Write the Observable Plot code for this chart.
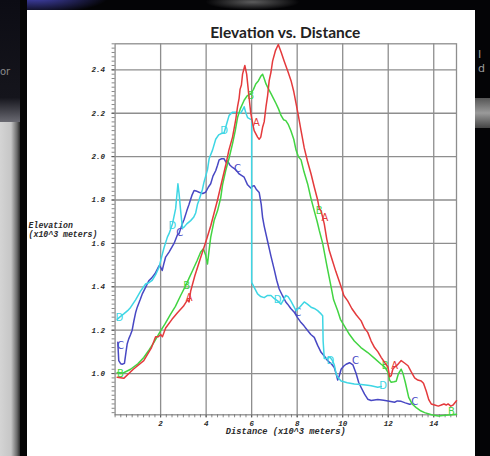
<!DOCTYPE html>
<html>
<head>
<meta charset="utf-8">
<script src="https://cdn.jsdelivr.net/npm/d3@7"></script>
<script src="https://cdn.jsdelivr.net/npm/@observablehq/plot@0.6"></script>
<style>
  html, body { margin: 0; padding: 0; }
  body { width: 490px; height: 456px; background: #040406; position: relative; overflow: hidden; }
  .deco { position: absolute; }
  #glow { left: -40px; top: -22px; width: 150px; height: 36px; background: radial-gradient(ellipse at center, rgba(80,80,210,0.9), rgba(40,40,140,0) 70%); }
  #glow2 { left: 205px; top: -6px; width: 95px; height: 16px; background: radial-gradient(ellipse at center, rgba(150,150,150,0.6), rgba(60,60,60,0) 70%); }
  #sideTop { left: 0; top: 0; width: 20px; height: 122px; background: linear-gradient(to bottom, #0c0c14, #15151c 80%, #6a6a72); }
  #sideBot { left: 0; top: 122px; width: 20px; height: 334px; background: linear-gradient(to right, #d4d4d4, #c6c6c6 55%, #6a6a6a 85%, #2a2a2a); }
  #edge { left: 20px; top: 0; width: 7px; height: 456px; background: #050505; }
  #rightBand { left: 475px; top: 98px; width: 15px; height: 30px; background: linear-gradient(to bottom, #555, #9a9a9a, #444); }
  #txtL { left: 0; top: 66px; color: #8a8a8a; font: 10px "DejaVu Sans", sans-serif; }
  #txtR { left: 478px; top: 48px; color: #9a9a9a; font: 11px "DejaVu Sans", sans-serif; line-height: 14px; }
  #panel { position: absolute; left: 27px; top: 10px; width: 448px; height: 446px; background: #fff; overflow: hidden; }
  #title { position: absolute; top: 13px; left: 87.6px; width: 341.4px; text-align: center;
           font: bold 15.5px Lato, "DejaVu Sans", sans-serif; color: #222; }
  #chart { position: absolute; left: 0; top: 0; }
</style>
</head>
<body>
<div class="deco" id="glow"></div>
<div class="deco" id="glow2"></div>
<div class="deco" id="sideTop"></div>
<div class="deco" id="sideBot"></div>
<div class="deco" id="edge"></div>
<div class="deco" id="rightBand"></div>
<div class="deco" id="txtL">or</div>
<div class="deco" id="txtR">I<br>d</div>
<div id="panel">
  <div id="title"></div>
  <div id="chart"></div>
</div>
<script>
// Profile traces: [distance (x10^3 m), elevation (x10^3 m)]
const profileA = [
  [0.09,0.983],[0.38,0.978],[0.8,1.02],[1.26,1.06],[1.6,1.12],[1.78,1.17],[1.9,1.17],[2.0,1.18],[2.08,1.17],
  [2.22,1.21],[2.5,1.25],[2.74,1.28],[3.0,1.31],[3.18,1.34],[3.25,1.33],[3.32,1.38],[3.5,1.45],[3.76,1.535],
  [3.98,1.605],[4.2,1.68],[4.5,1.80],[4.7,1.89],[4.86,1.96],[5.0,2.03],[5.16,2.09],[5.3,2.17],[5.38,2.23],
  [5.45,2.27],[5.49,2.31],[5.55,2.33],[5.6,2.38],[5.70,2.42],[5.78,2.38],[5.85,2.31],[5.96,2.20],[6.05,2.15],
  [6.11,2.12],[6.26,2.09],[6.33,2.08],[6.4,2.09],[6.48,2.135],[6.55,2.16],[6.63,2.23],[6.7,2.28],[6.77,2.35],
  [6.85,2.39],[6.92,2.44],[7.05,2.49],[7.17,2.517],[7.3,2.48],[7.43,2.44],[7.6,2.39],[7.73,2.35],[7.85,2.30],
  [7.95,2.245],[8.05,2.19],[8.17,2.12],[8.31,2.04],[8.45,1.98],[8.61,1.92],[8.75,1.86],[8.9,1.80],[8.97,1.76],
  [9.05,1.75],[9.19,1.69],[9.3,1.62],[9.41,1.567],[9.55,1.52],[9.7,1.47],[9.93,1.40],[10.05,1.36],[10.22,1.335],
  [10.4,1.30],[10.6,1.27],[10.81,1.243],[10.95,1.21],[11.1,1.19],[11.25,1.15],[11.4,1.12],[11.55,1.10],
  [11.69,1.075],[11.85,1.05],[11.99,1.03],[12.06,0.985],[12.13,0.99],[12.2,1.02],[12.28,1.03],[12.4,1.04],
  [12.57,1.06],[12.7,1.05],[12.87,1.036],[13.0,1.01],[13.16,0.98],[13.3,0.97],[13.45,0.966],[13.55,0.955],
  [13.67,0.92],[13.78,0.88],[13.89,0.86],[14.04,0.855],[14.2,0.85],[14.33,0.855],[14.45,0.86],[14.55,0.855],
  [14.63,0.86],[14.75,0.85],[14.85,0.855],[15.0,0.875]
];
const profileB = [
  [0.09,1.005],[0.24,1.0],[0.4,1.005],[0.68,1.02],[1.0,1.045],[1.26,1.074],[1.5,1.11],[1.7,1.143],[2.0,1.197],
  [2.2,1.23],[2.44,1.274],[2.65,1.31],[2.88,1.36],[3.1,1.405],[3.25,1.44],[3.4,1.474],[3.6,1.52],[3.76,1.56],
  [3.88,1.575],[3.98,1.545],[4.06,1.505],[4.12,1.56],[4.2,1.628],[4.35,1.705],[4.5,1.75],[4.64,1.81],[4.72,1.87],
  [4.86,1.936],[5.0,1.99],[5.16,2.06],[5.28,2.12],[5.38,2.18],[5.5,2.22],[5.67,2.26],[5.8,2.28],[5.96,2.29],
  [6.08,2.31],[6.18,2.335],[6.3,2.35],[6.4,2.37],[6.48,2.38],[6.55,2.36],[6.63,2.335],[6.75,2.31],[6.85,2.29],
  [6.95,2.27],[7.07,2.245],[7.18,2.22],[7.29,2.19],[7.4,2.17],[7.5,2.166],[7.6,2.15],[7.72,2.12],[7.85,2.08],
  [7.95,2.03],[8.05,2.00],[8.17,1.985],[8.3,1.93],[8.46,1.874],[8.6,1.81],[8.75,1.75],[8.88,1.70],[8.97,1.66],
  [9.12,1.60],[9.3,1.50],[9.49,1.40],[9.6,1.34],[9.78,1.29],[9.9,1.25],[10.07,1.22],[10.3,1.18],[10.51,1.15],
  [10.8,1.12],[11.1,1.097],[11.4,1.07],[11.69,1.043],[11.85,1.03],[11.99,1.005],[12.06,0.97],[12.13,0.96],
  [12.25,0.962],[12.35,0.965],[12.45,1.0],[12.57,1.02],[12.65,1.0],[12.75,0.96],[12.9,0.89],[13.05,0.86],
  [13.23,0.843],[13.4,0.83],[13.6,0.82],[13.9,0.81],[14.2,0.805],[14.5,0.808],[14.8,0.81],[15.0,0.812]
];
const profileC = [
  [0.12,1.144],[0.14,1.10],[0.16,1.06],[0.25,1.045],[0.31,1.043],[0.41,1.047],[0.48,1.10],[0.53,1.136],
  [0.6,1.16],[0.68,1.18],[0.75,1.20],[0.82,1.24],[0.9,1.28],[0.97,1.305],[1.1,1.34],[1.19,1.366],[1.35,1.40],
  [1.48,1.428],[1.6,1.44],[1.75,1.46],[1.93,1.497],[2.0,1.49],[2.07,1.475],[2.15,1.51],[2.22,1.537],[2.37,1.56],
  [2.59,1.60],[2.74,1.64],[2.81,1.645],[2.95,1.69],[3.03,1.71],[3.15,1.75],[3.25,1.78],[3.37,1.82],[3.47,1.844],
  [3.6,1.84],[3.69,1.836],[3.85,1.83],[3.98,1.836],[4.1,1.86],[4.2,1.875],[4.3,1.91],[4.42,1.935],[4.5,1.96],
  [4.57,1.985],[4.68,1.99],[4.79,1.99],[4.87,1.975],[4.94,1.98],[5.05,1.96],[5.16,1.95],[5.3,1.94],[5.45,1.92],
  [5.67,1.905],[5.82,1.87],[5.96,1.855],[6.05,1.865],[6.11,1.866],[6.2,1.85],[6.33,1.835],[6.42,1.78],
  [6.48,1.72],[6.55,1.68],[6.7,1.61],[6.85,1.54],[6.99,1.48],[7.1,1.43],[7.21,1.39],[7.35,1.36],[7.5,1.33],
  [7.58,1.32],[7.72,1.30],[7.87,1.283],[8.0,1.26],[8.17,1.235],[8.3,1.22],[8.45,1.20],[8.6,1.18],[8.75,1.167],
  [8.9,1.13],[9.05,1.098],[9.2,1.08],[9.34,1.059],[9.5,1.045],[9.63,1.028],[9.72,0.995],[9.78,0.97],[9.85,0.99],
  [9.93,1.02],[10.05,1.035],[10.15,1.043],[10.3,1.05],[10.45,1.04],[10.59,1.0],[10.7,0.96],[10.81,0.936],
  [10.96,0.905],[11.1,0.882],[11.25,0.876],[11.54,0.88],[11.8,0.877],[11.99,0.874],[12.28,0.868],[12.4,0.874],
  [12.57,0.872],[12.75,0.865],[12.94,0.859],[13.0,0.86]
];
const profileD = [
  [0.09,1.25],[0.2,1.26],[0.38,1.275],[0.55,1.29],[0.68,1.305],[0.9,1.34],[1.12,1.38],[1.34,1.413],[1.5,1.42],
  [1.63,1.43],[1.8,1.46],[1.93,1.49],[2.05,1.54],[2.15,1.58],[2.3,1.63],[2.37,1.645],[2.52,1.69],[2.66,1.76],
  [2.76,1.875],[2.81,1.83],[2.88,1.75],[2.96,1.67],[3.03,1.675],[3.15,1.69],[3.32,1.705],[3.45,1.72],[3.54,1.74],
  [3.62,1.78],[3.69,1.80],[3.84,1.85],[3.9,1.88],[4.06,1.94],[4.13,1.99],[4.28,2.03],[4.42,2.08],[4.55,2.10],
  [4.64,2.105],[4.79,2.11],[4.9,2.15],[5.01,2.19],[5.16,2.205],[5.3,2.205],[5.52,2.20],[5.6,2.215],[5.67,2.23],
  [5.75,2.20],[5.82,2.18],[5.96,2.172],[6.0,2.17],[6.0,1.42],[6.1,1.40],[6.26,1.367],[6.4,1.355],[6.55,1.35],
  [6.7,1.36],[6.85,1.36],[7.0,1.345],[7.14,1.335],[7.29,1.32],[7.4,1.34],[7.5,1.36],[7.6,1.355],[7.72,1.335],
  [7.85,1.31],[7.95,1.29],[8.1,1.305],[8.31,1.33],[8.45,1.32],[8.61,1.306],[8.75,1.30],[8.9,1.29],[9.05,1.275],
  [9.12,1.267],[9.14,1.15],[9.19,1.07],[9.3,1.07],[9.45,1.075],[9.55,1.06],[9.63,1.04],[9.71,1.00],[9.78,0.983],
  [9.93,0.966],[10.2,0.958],[10.51,0.952],[10.81,0.95],[11.1,0.946],[11.25,0.944],[11.54,0.937],[11.7,0.94]
];

// Letter tags along each trace
const tagsA = [[3.25,1.35],[6.21,2.158],[9.22,1.72],[12.28,1.035]];
const tagsB = [[0.24,1.0],[3.15,1.405],[5.96,2.28],[8.97,1.75],[11.87,1.035],[14.78,0.826]];
const tagsC = [[0.24,1.13],[2.84,1.648],[5.38,1.943],[8.02,1.279],[10.56,1.059],[13.16,0.871]];
const tagsD = [[0.19,1.258],[2.51,1.68],[4.79,2.12],[7.14,1.339],[9.46,1.059],[11.77,0.943]];

const traceNames = ["A", "B", "C", "D"];
const traceColors = ["#e43a3c", "#42d442", "#4848c4", "#3ed6e4"];

const xTicks = [2, 4, 6, 8, 10, 12, 14];
const yTicks = [1.0, 1.2, 1.4, 1.6, 1.8, 2.0, 2.2, 2.4];
const xDomain = [0, 15];
const yDomain = [0.81, 2.52];

const titleText = "Elevation vs. Distance";
const xTitle = "Distance (x10^3 meters)";
const yTitle = ["Elevation", "(x10^3 meters)"];

document.getElementById("title").textContent = titleText;

const W = 448, H = 446;
const M = {left: 87.6, right: 19, top: 33.3, bottom: 41.7};
const frameW = W - M.left - M.right;
const frameH = H - M.top - M.bottom;

const xMinor = d3.range(0, 15.001, 0.25);
const yMinor = d3.range(0.82, 2.521, 0.02);

const gridColor = "#8e8e8e";
const mono = "'Liberation Mono', 'DejaVu Sans Mono', monospace";

const traces = [
  {data: profileC, tags: tagsC, i: 2},
  {data: profileD, tags: tagsD, i: 3},
  {data: profileB, tags: tagsB, i: 1},
  {data: profileA, tags: tagsA, i: 0}
];

const chart = Plot.plot({
  width: W,
  height: H,
  marginLeft: M.left,
  marginRight: M.right,
  marginTop: M.top,
  marginBottom: M.bottom,
  style: {
    background: "transparent",
    color: "#2a2a2a",
    fontFamily: mono,
    fontStyle: "italic",
    fontWeight: "bold",
    fontSize: "7.5px"
  },
  x: {domain: xDomain, ticks: xTicks, tickSize: 3, tickPadding: 3, tickFormat: d => String(d), label: null},
  y: {domain: yDomain, ticks: yTicks, tickSize: 3, tickPadding: 7, tickFormat: d3.format(".1f"), label: null},
  marks: [
    Plot.ruleX(xTicks, {stroke: gridColor, strokeWidth: 1.3}),
    Plot.ruleY(yTicks, {stroke: gridColor, strokeWidth: 1.3}),
    Plot.frame({stroke: gridColor, strokeWidth: 1.3}),
    Plot.ruleX(xMinor, {stroke: "#6a6a6a", strokeWidth: 0.8, insetTop: frameH, insetBottom: -3}),
    Plot.ruleY(yMinor, {stroke: "#6a6a6a", strokeWidth: 0.8, insetRight: frameW, insetLeft: -3}),
    ...traces.flatMap(t => [
      Plot.line(t.data, {x: d => d[0], y: d => d[1], stroke: traceColors[t.i], strokeWidth: 1.5}),
      Plot.text(t.tags, {x: d => d[0], y: d => d[1], text: () => traceNames[t.i], fill: traceColors[t.i],
        fontSize: 10, fontFamily: "DejaVu Sans", fontStyle: "normal", fontWeight: "normal"})
    ]),
    Plot.text([xTitle], {frameAnchor: "bottom", dy: 19, text: d => d, fontSize: 8.7, fill: "#2a2a2a"}),
    // Axis title kept just inside the panel's left edge
    Plot.text([yTitle[0]], {frameAnchor: "left", dx: -86.5, dy: -4, textAnchor: "start", text: d => d, fontSize: 8.2, fill: "#2a2a2a"}),
    Plot.text([yTitle[1]], {frameAnchor: "left", dx: -86.5, dy: 5, textAnchor: "start", text: d => d, fontSize: 8.2, fill: "#2a2a2a"})
  ]
});

document.getElementById("chart").appendChild(chart);
</script>
</body>
</html>
